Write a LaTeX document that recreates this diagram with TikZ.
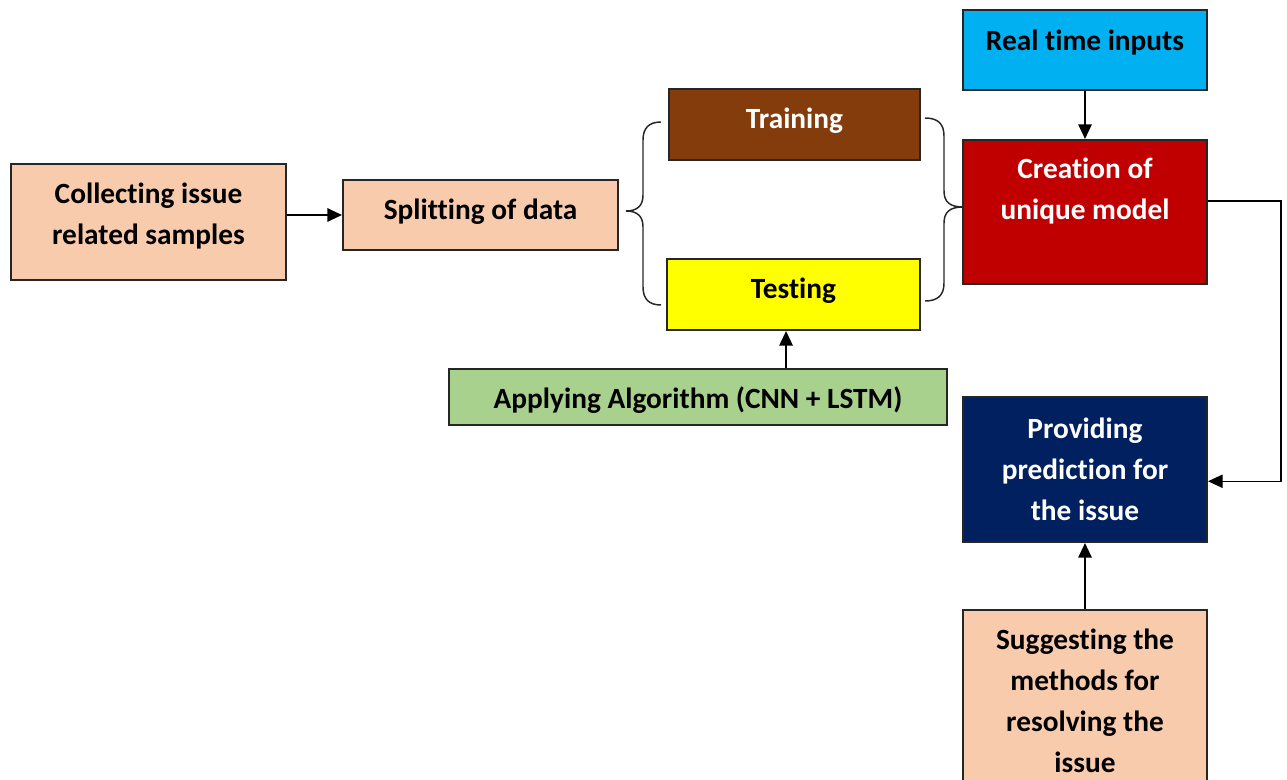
\documentclass[tikz,border=0pt]{standalone}
\usepackage{fontspec}
\setmainfont{Carlito}[Ligatures=NoCommon]
\usetikzlibrary{arrows.meta,calc}
\definecolor{peach}{HTML}{F8CBAD}
\definecolor{brownbox}{HTML}{843C0C}
\definecolor{yellowbox}{HTML}{FFFF00}
\definecolor{greenbox}{HTML}{A9D18E}
\definecolor{cyanbox}{HTML}{00B0F0}
\definecolor{redbox}{HTML}{C00000}
\definecolor{navybox}{HTML}{002060}
\tikzset{
  box/.style={draw=black!85, line width=1.5pt, align=center, inner sep=0pt,
    font=\fontsize{22pt}{30.75pt}\selectfont\bfseries},
  conn/.style={line width=1.5pt, -{Triangle[length=11pt,width=10pt]}},
  thinconn/.style={line width=0.9pt, -{Triangle[length=11pt,width=10pt]}},
  bracepath/.style={line width=1.1pt, black!85}
}
\begin{document}
\begin{tikzpicture}[x=0.75pt,y=-0.75pt]
\useasboundingbox (0,0) rectangle (1287,780);
\begin{scope}
\clip (0,0) rectangle (1287,780);
\node[box, fill=peach, minimum width=206.25pt, minimum height=87pt] (collect) at (148.5,222)
  {Collecting issue\\related samples\rule[-13pt]{0pt}{0pt}};
\node[box, fill=peach, minimum width=206.25pt, minimum height=52.5pt] (split) at (480.5,215)
  {Splitting of data\rule[-9pt]{0pt}{0pt}};
\node[box, fill=brownbox, text=white, minimum width=188.25pt, minimum height=53.25pt] (train) at (794.5,124.5)
  {Training\rule[-10pt]{0pt}{0pt}};
\node[box, fill=yellowbox, minimum width=189.75pt, minimum height=53.25pt] (test) at (793.5,294.5)
  {Testing\rule[-10pt]{0pt}{0pt}};
\node[box, fill=greenbox, minimum width=373.5pt, minimum height=42pt] (apply) at (698,397)
  {\rule{0pt}{21pt}Applying Algorithm (CNN + LSTM)};
\node[box, fill=cyanbox, minimum width=183pt, minimum height=60pt] (real) at (1085,50)
  {Real time inputs\rule[-14pt]{0pt}{0pt}};
\node[box, fill=redbox, text=white, minimum width=183pt, minimum height=108pt] (create) at (1085,212)
  {Creation of\\unique model\rule[-35pt]{0pt}{0pt}};
\node[box, fill=navybox, text=white, minimum width=183pt, minimum height=108.75pt] (provide) at (1085,469.5)
  {Providing\\prediction for\\the issue};
\node[box, fill=peach, minimum width=183pt, minimum height=136.5pt] (suggest) at (1085,701)
  {Suggesting the\\methods for\\resolving the\\issue};
\end{scope}

% connectors
\draw[conn] (collect.east |- split.west) -- (split.west);
\coordinate (testin) at ([xshift=-5.6pt]test.south);
\draw[conn] (apply.north -| testin) -- (testin);
\draw[conn] (real.south) -- (create.north);
\draw[conn] (suggest.north) -- (provide.south);
\coordinate (cout) at ($(create.north east)!0.424!(create.south east)$);
\coordinate (pin) at ($(provide.north east)!0.58!(provide.south east)$);
\coordinate (corner) at (1281,0);
\draw[thinconn] (cout) -- (cout -| corner) -- (pin -| corner) -- (pin);

% braces
\coordinate (lbtip) at (626,211);
\coordinate (rbtip) at (963,207);
\draw[bracepath] (661,122) .. controls (649,122) and (643,128) .. (643,140)
  -- (643,195) .. controls (643,206) and (637,211) .. (lbtip)
  .. controls (637,211) and (643,216) .. (643,227)
  -- (643,287) .. controls (643,299) and (649,305) .. (661,305);
\draw[bracepath] (925,118) .. controls (938,118) and (944,124) .. (944,136)
  -- (944,191) .. controls (944,202) and (950,207) .. (rbtip)
  .. controls (950,207) and (944,212) .. (944,223)
  -- (944,283) .. controls (944,295) and (938,301) .. (925,301);
\end{tikzpicture}
\end{document}
